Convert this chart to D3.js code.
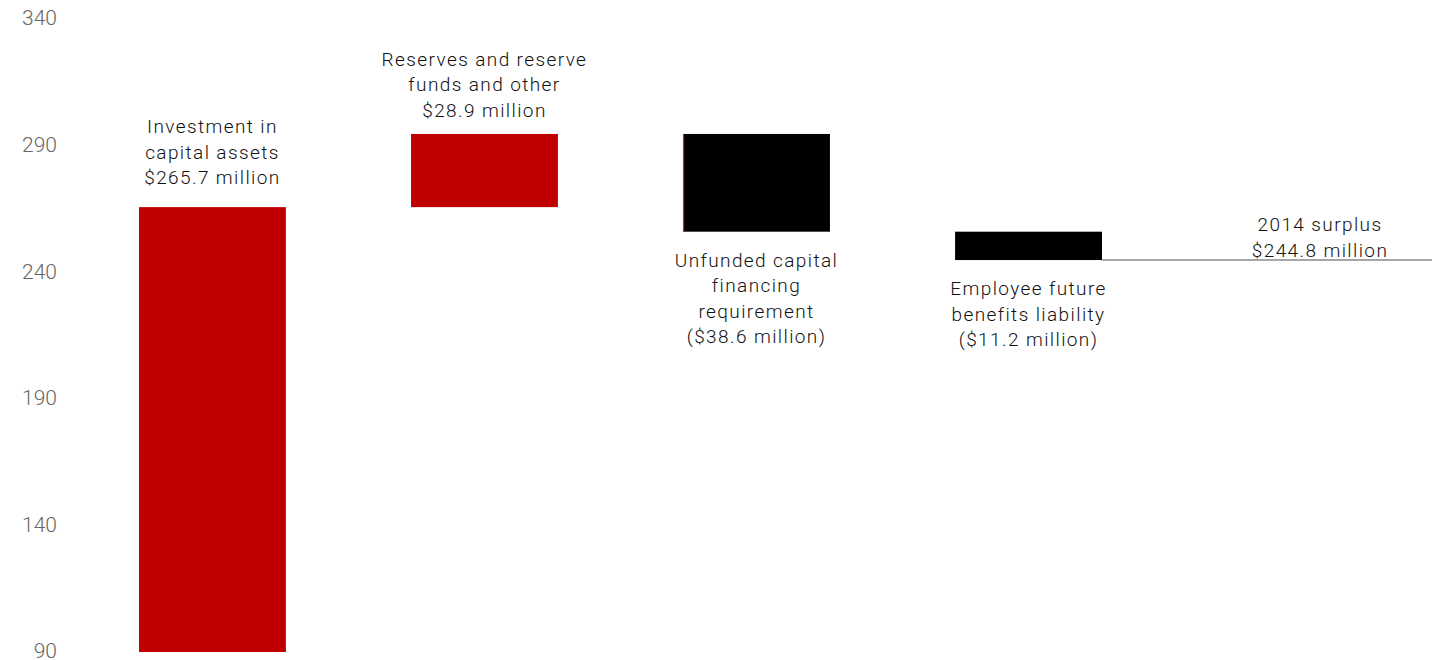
<!DOCTYPE html>
<html>
<head>
<meta charset="utf-8">
<script src="https://cdn.jsdelivr.net/npm/d3@7"></script>
<style>
  html, body { margin: 0; padding: 0; background: #fff; }
  svg { display: block; }
  .tick-label { font-family: Roboto, "Liberation Sans", sans-serif; font-size: 21px; font-weight: 300; fill: #666; }
  .bar-label { font-family: Roboto, "Liberation Sans", sans-serif; font-size: 19px; font-weight: 300; fill: #111; letter-spacing: 1.4px; }
</style>
</head>
<body>
<svg id="chart" width="1434" height="660"></svg>
<script>
// Waterfall: building up to the 2014 surplus
const categories = ["capital", "reserves", "unfunded", "employee", "surplus"];
const deltas = [265.7, 28.9, -38.6, -11.2];
const surplusTotal = 244.8;
const barColors = ["#c00000", "#c00000", "#000000", "#000000"];
const labels = [
  ["Investment in", "capital assets", "$265.7 million"],
  ["Reserves and reserve", "funds and other", "$28.9 million"],
  ["Unfunded capital", "financing", "requirement", "($38.6 million)"],
  ["Employee future", "benefits liability", "($11.2 million)"],
  ["2014 surplus", "$244.8 million"]
];
const yTicks = [90, 140, 190, 240, 290, 340];
const yBase = 90;

const svg = d3.select("#chart");

const y = d3.scaleLinear().domain([90, 340]).range([652, 19]);
const x = d3.scaleBand().domain(categories).range([139, 1374]).paddingInner(0.46).paddingOuter(0);

// running totals for each floating bar
let run = 0;
const steps = deltas.map((d, i) => {
  const start = i === 0 ? yBase : run;
  const end = i === 0 ? d : run + d;
  run = end;
  return { key: categories[i], start, end, delta: d, color: barColors[i] };
});

// y-axis labels (no axis line)
svg.append("g").selectAll("text")
  .data(yTicks).join("text")
  .attr("class", "tick-label")
  .attr("x", 57)
  .attr("y", d => y(d) - 1)
  .attr("dy", "0.35em")
  .attr("text-anchor", "end")
  .text(d => d);

// bars
svg.append("g").selectAll("rect")
  .data(steps).join("rect")
  .attr("x", d => x(d.key))
  .attr("width", x.bandwidth())
  .attr("y", d => y(Math.max(d.start, d.end)))
  .attr("height", d => Math.abs(y(d.start) - y(d.end)))
  .attr("fill", d => d.color);

// thin red edge where the first decrease begins
const s3 = steps[2];
svg.append("line")
  .attr("x1", x(s3.key) + 0.5).attr("x2", x(s3.key) + 0.5)
  .attr("y1", y(s3.start)).attr("y2", y(s3.end))
  .attr("stroke", "#d42020").attr("stroke-width", 1.2);

// surplus level line
svg.append("line")
  .attr("x1", x("employee") + x.bandwidth())
  .attr("x2", 1432)
  .attr("y1", y(surplusTotal)).attr("y2", y(surplusTotal))
  .attr("stroke", "#8a8a8a").attr("stroke-width", 1.4);

// labels
const lineH = 25.5;
function drawLabel(lines, cx, anchorY, above) {
  const g = svg.append("text").attr("class", "bar-label").attr("text-anchor", "middle");
  lines.forEach((t, i) => {
    const yy = above
      ? anchorY - (lines.length - 1 - i) * lineH
      : anchorY + i * lineH;
    g.append("tspan").attr("x", cx).attr("y", yy).text(t);
  });
}

// gap between a bar's end and its label block
const labelGap = [23, 17, -35, -35];
steps.forEach((d, i) => {
  const cx = x(d.key) + x.bandwidth() / 2;
  drawLabel(labels[i], cx, y(d.end) - labelGap[i], d.delta >= 0);
});

drawLabel(labels[4], 1320, y(surplusTotal) - 3.5, true);
</script>
</body>
</html>
